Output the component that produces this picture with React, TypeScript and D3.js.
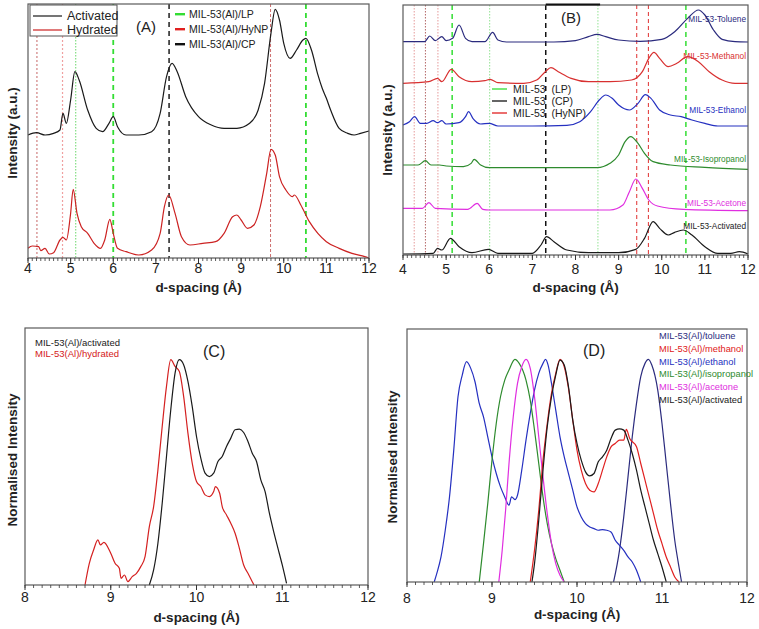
import React from "react";
import * as d3 from "d3";

type Pt = [number, number];

// ---------- Panel A data (d-spacing Å, intensity a.u.) ----------
const aActivated: Pt[] = [
  [4.0, 369], [4.2, 376], [4.4, 369], [4.6, 374], [4.75, 384], [4.82, 434], [4.9, 404], [5.0, 474],
  [5.1, 559], [5.2, 534], [5.4, 444], [5.6, 389], [5.75, 379], [5.9, 404], [6.0, 424], [6.1, 394],
  [6.3, 369], [6.6, 369], [6.9, 379], [7.1, 434], [7.25, 544], [7.38, 584], [7.5, 559], [7.7, 484],
  [8.0, 424], [8.3, 399], [8.6, 389], [8.9, 389], [9.2, 404], [9.4, 444], [9.55, 524], [9.7, 674],
  [9.8, 746], [9.9, 714], [10.0, 644], [10.15, 599], [10.3, 624], [10.45, 654], [10.52, 659],
  [10.65, 624], [10.8, 550], [10.9, 510], [11.0, 479], [11.1, 444], [11.3, 389], [11.5, 374],
  [11.65, 369], [11.8, 374], [12.0, 381],
];
const aHydrated: Pt[] = [
  [4.0, 29], [4.1, 36], [4.25, 34], [4.3, 22], [4.4, 29], [4.5, 12], [4.6, 16], [4.75, 54], [4.82, 62],
  [4.9, 54], [5.0, 134], [5.06, 206], [5.15, 134], [5.25, 94], [5.4, 74], [5.55, 44], [5.7, 29],
  [5.8, 54], [5.92, 116], [6.0, 74], [6.1, 29], [6.3, 19], [6.6, 9], [6.9, 24], [7.1, 74], [7.2, 154],
  [7.3, 189], [7.45, 134], [7.6, 64], [7.8, 39], [8.1, 44], [8.4, 49], [8.6, 74], [8.8, 124], [8.9, 129],
  [9.0, 114], [9.15, 89], [9.3, 99], [9.45, 154], [9.6, 254], [9.7, 326], [9.8, 309], [9.9, 244],
  [10.05, 204], [10.2, 184], [10.25, 189], [10.4, 159], [10.6, 109], [10.8, 74], [11.0, 49],
  [11.3, 29], [11.6, 14], [11.9, 4], [12.0, 0],
];

// ---------- Panel B data ----------
const bToluene: Pt[] = [
  [4.0, 640], [4.5, 640], [4.62, 657], [4.75, 643], [4.9, 655], [5.0, 643], [5.15, 650], [5.3, 690],
  [5.45, 650], [5.6, 640], [5.9, 640], [6.08, 668], [6.2, 645], [6.4, 639], [7.5, 639], [8.0, 643],
  [8.3, 655], [8.5, 662], [8.7, 655], [9.0, 645], [9.5, 641], [10.0, 647], [10.3, 670], [10.6, 710],
  [10.85, 735], [11.0, 720], [11.2, 675], [11.4, 647], [11.7, 640], [12.0, 639],
];
const bMethanol: Pt[] = [
  [4.0, 515], [4.6, 520], [4.8, 530], [4.9, 520], [5.12, 557], [5.3, 535], [5.6, 520], [5.9, 523],
  [6.02, 527], [6.2, 517], [6.8, 515], [7.1, 525], [7.3, 550], [7.43, 562], [7.6, 550], [7.9, 530],
  [8.3, 520], [8.8, 520], [9.3, 525], [9.55, 550], [9.7, 590], [9.82, 608], [9.95, 590], [10.15, 565],
  [10.35, 575], [10.6, 595], [10.85, 580], [11.1, 550], [11.4, 525], [11.7, 515], [12.0, 515],
];
const bEthanol: Pt[] = [
  [4.0, 390], [4.15, 400], [4.27, 415], [4.4, 395], [4.55, 395], [4.7, 403], [4.8, 397], [4.9, 403],
  [5.0, 393], [5.3, 397], [5.45, 415], [5.52, 430], [5.62, 410], [5.8, 393], [6.0, 395], [6.2, 387],
  [7.0, 387], [7.8, 389], [8.1, 400], [8.35, 430], [8.55, 465], [8.7, 480], [8.85, 470], [9.0, 450],
  [9.25, 435], [9.45, 455], [9.62, 481], [9.75, 470], [9.95, 435], [10.2, 420], [10.45, 415],
  [10.7, 405], [11.0, 395], [11.3, 387], [11.6, 387], [12.0, 387],
];
const bIsopropanol: Pt[] = [
  [4.0, 270], [4.35, 270], [4.52, 283], [4.65, 270], [4.85, 270], [5.0, 267], [5.4, 265], [5.58, 275],
  [5.65, 287], [5.8, 270], [6.0, 262], [8.5, 262], [8.8, 275], [9.0, 300], [9.15, 340], [9.28, 355],
  [9.45, 335], [9.6, 305], [9.8, 280], [10.2, 270], [11.0, 263], [12.0, 257],
];
const bAcetone: Pt[] = [
  [4.0, 140], [4.45, 140], [4.6, 157], [4.75, 140], [5.5, 137], [5.72, 155], [5.85, 137], [6.0, 135],
  [8.8, 135], [9.1, 150], [9.25, 190], [9.4, 228], [9.55, 200], [9.7, 165], [9.9, 147], [10.5, 137],
  [12.0, 133],
];
const bActivated: Pt[] = [
  [4.0, 3], [4.7, 5], [4.8, 20], [4.9, 15], [5.1, 50], [5.3, 25], [5.6, 7], [5.98, 17], [6.2, 5],
  [7.0, 5], [7.2, 30], [7.33, 55], [7.5, 40], [7.8, 15], [8.3, 7], [9.0, 7], [9.4, 17], [9.6, 50],
  [9.8, 100], [9.95, 80], [10.15, 60], [10.3, 68], [10.5, 75], [10.7, 60], [11.0, 25], [11.3, 5],
  [11.6, 5], [11.8, 10], [12.0, 3],
];

// ---------- Panel C data (normalised) ----------
const cActivated: Pt[] = [
  [9.45, 0], [9.5, 45], [9.55, 125], [9.6, 245], [9.65, 385], [9.7, 525], [9.75, 635], [9.8, 675],
  [9.85, 660], [9.9, 610], [9.95, 535], [10.0, 445], [10.05, 380], [10.1, 335], [10.15, 325],
  [10.2, 335], [10.25, 370], [10.3, 385], [10.35, 415], [10.4, 440], [10.45, 465], [10.5, 467],
  [10.55, 457], [10.6, 430], [10.65, 395], [10.7, 370], [10.75, 315], [10.8, 280], [10.85, 215],
  [10.9, 160], [10.95, 110], [11.0, 60], [11.05, 5],
];
const cHydrated: Pt[] = [
  [8.7, 0], [8.75, 65], [8.8, 105], [8.85, 135], [8.88, 120], [8.92, 128], [9.0, 95], [9.05, 65],
  [9.1, 50], [9.12, 20], [9.16, 30], [9.2, 10], [9.25, 25], [9.3, 35], [9.35, 55], [9.4, 85],
  [9.45, 175], [9.5, 235], [9.55, 345], [9.6, 475], [9.65, 595], [9.7, 675], [9.75, 655], [9.8, 640],
  [9.85, 565], [9.9, 455], [9.95, 365], [10.0, 310], [10.05, 295], [10.1, 270], [10.15, 265],
  [10.2, 280], [10.22, 295], [10.27, 275], [10.3, 235], [10.35, 210], [10.4, 185], [10.45, 155],
  [10.5, 110], [10.55, 60], [10.6, 35], [10.65, 10], [10.67, 0],
];

// ---------- Panel D data (normalised) ----------
const dEthanol: Pt[] = [
  [8.32, 0], [8.35, 25], [8.4, 75], [8.45, 155], [8.5, 255], [8.55, 395], [8.6, 555], [8.65, 620],
  [8.7, 660], [8.75, 640], [8.8, 600], [8.85, 535], [8.9, 495], [8.95, 435], [9.0, 375], [9.05, 325],
  [9.1, 285], [9.15, 255], [9.2, 230], [9.23, 255], [9.27, 247], [9.3, 260], [9.35, 335], [9.4, 425],
  [9.45, 505], [9.5, 575], [9.55, 625], [9.6, 655], [9.63, 667], [9.66, 650], [9.7, 595], [9.75, 515],
  [9.8, 435], [9.85, 375], [9.9, 325], [9.95, 275], [10.0, 225], [10.05, 195], [10.1, 175],
  [10.15, 165], [10.2, 160], [10.25, 155], [10.3, 157], [10.35, 155], [10.4, 150], [10.45, 125],
  [10.5, 110], [10.55, 95], [10.6, 75], [10.65, 60], [10.7, 35], [10.75, 0],
];
const dIsopropanol: Pt[] = [
  [8.85, 0], [8.9, 115], [8.95, 235], [9.0, 365], [9.05, 475], [9.1, 555], [9.15, 605], [9.2, 635],
  [9.27, 667], [9.32, 655], [9.4, 605], [9.45, 545], [9.5, 455], [9.55, 355], [9.6, 255], [9.65, 175],
  [9.7, 115], [9.75, 70], [9.8, 35], [9.85, 0],
];
const dAcetone: Pt[] = [
  [9.08, 0], [9.12, 95], [9.16, 215], [9.2, 355], [9.25, 495], [9.3, 595], [9.35, 645], [9.4, 667],
  [9.45, 640], [9.5, 555], [9.55, 435], [9.6, 315], [9.65, 205], [9.7, 115], [9.75, 55], [9.8, 20],
  [9.85, 0],
];
const dMethanol: Pt[] = [
  [9.45, 0], [9.5, 95], [9.55, 215], [9.6, 365], [9.65, 475], [9.7, 565], [9.75, 625], [9.8, 667],
  [9.85, 645], [9.9, 580], [9.95, 485], [10.0, 395], [10.05, 335], [10.1, 295], [10.15, 275],
  [10.2, 270], [10.25, 295], [10.3, 335], [10.35, 375], [10.4, 405], [10.45, 415], [10.5, 425],
  [10.55, 425], [10.58, 457], [10.62, 430], [10.7, 405], [10.75, 355], [10.8, 305], [10.85, 255],
  [10.9, 205], [10.95, 155], [11.0, 115], [11.05, 75], [11.1, 45], [11.15, 15], [11.2, 0],
];
const dActivated: Pt[] = [
  [9.47, 0], [9.5, 55], [9.55, 185], [9.6, 335], [9.65, 465], [9.7, 555], [9.75, 620], [9.8, 665],
  [9.85, 650], [9.9, 585], [9.95, 485], [10.0, 415], [10.05, 365], [10.1, 330], [10.15, 318],
  [10.2, 325], [10.25, 360], [10.3, 375], [10.35, 395], [10.4, 430], [10.45, 455], [10.5, 459],
  [10.55, 455], [10.6, 425], [10.65, 385], [10.7, 335], [10.75, 275], [10.8, 225], [10.85, 175],
  [10.9, 125], [10.95, 85], [11.0, 45], [11.05, 0],
];
const dToluene: Pt[] = [
  [10.43, 0], [10.5, 95], [10.55, 195], [10.6, 315], [10.65, 435], [10.7, 535], [10.75, 615],
  [10.8, 655], [10.84, 667], [10.88, 650], [10.95, 575], [11.0, 475], [11.05, 355], [11.1, 235],
  [11.15, 125], [11.2, 45], [11.23, 0],
];

// ---------- Reference lines ----------
const aRefD = [4.21, 4.81, 5.12, 6.0, 7.31, 9.69, 10.52];
const bRefD = [4.26, 4.52, 4.81, 5.14, 6.01, 7.31, 8.52, 9.42, 9.69, 10.56];
const bTopMark = [7.31, 8.57];

// ---------- Ticks & labels ----------
const ticksAB = [4, 5, 6, 7, 8, 9, 10, 11, 12];
const ticksCD = [8, 9, 10, 11, 12];
const legendA1 = ["Activated", "Hydrated"];
const legendA2 = ["MIL-53(Al)/LP", "MIL-53(Al)/HyNP", "MIL-53(Al)/CP"];
const legendB = ["MIL-53\u00A0\u00A0(LP)", "MIL-53\u00A0\u00A0(CP)", "MIL-53\u00A0\u00A0(HyNP)"];
const labelsB = ["MIL-53-Toluene", "MIL-53-Methanol", "MIL-53-Ethanol", "MIL-53-Isopropanol", "MIL-53-Acetone", "MIL-53-Activated"];
const legendC = ["MIL-53(Al)/activated", "MIL-53(Al)/hydrated"];
const legendD = ["MIL-53(Al)/toluene", "MIL-53(Al)/methanol", "MIL-53(Al)/ethanol", "MIL-53(Al)/isopropanol", "MIL-53(Al)/acetone", "MIL-53(Al)/activated"];

const FONT = "'Liberation Sans', Arial, sans-serif";
const BLACK = "#1a1a1a";
const NAVY = "#2b2b7e";
const BLUE = "#2530c0";
const GREEN = "#2e8b2e";
const MAGENTA = "#e02ee0";
const LIME = "#33dd33";

interface Series { data: Pt[]; color: string; width?: number }
interface VLine { d: number; color: string; dash: string; width: number }

interface PanelProps {
  left: number; right: number; top: number; bottom: number;
  xDomain: [number, number]; yDomain: [number, number];
  series: Series[]; vlines?: VLine[]; ticks: number[];
  tickBaseline: number; titleBaseline: number;
  yTitle: string; yTitleX: number; yTitleY: number;
  topMark?: number[];
  children?: React.ReactNode;
}

function Panel(p: PanelProps) {
  const x = d3.scaleLinear().domain(p.xDomain).range([p.left, p.right]);
  const y = d3.scaleLinear().domain(p.yDomain).range([p.bottom, p.top]);
  const line = d3.line<Pt>().x((d) => x(d[0])).y((d) => y(d[1])).curve(d3.curveMonotoneX);
  const minor = d3.range(Math.round((p.xDomain[1] - p.xDomain[0]) * 10) + 1).map((i) => p.xDomain[0] + i * 0.1);
  return (
    <g>
      {(p.vlines || []).map((v, i) => (
        <line key={"v" + i} x1={x(v.d)} x2={x(v.d)} y1={p.top} y2={p.bottom}
          stroke={v.color} strokeWidth={v.width} strokeDasharray={v.dash} />
      ))}
      {p.series.map((s, i) => (
        <path key={"s" + i} d={line(s.data) || ""} fill="none" stroke={s.color}
          strokeWidth={s.width || 1.2} strokeLinejoin="round" />
      ))}
      <rect x={p.left} y={p.top} width={p.right - p.left} height={p.bottom - p.top}
        fill="none" stroke="#5a5a5a" strokeWidth={1.2} />
      {p.topMark && (
        <line x1={x(p.topMark[0])} x2={x(p.topMark[1])} y1={p.top - 0.5} y2={p.top - 0.5} stroke="#111" strokeWidth={2} />
      )}
      {minor.map((t, i) => (
        <line key={"m" + i} x1={x(t)} x2={x(t)} y1={p.bottom} y2={p.bottom + 3} stroke="#333" strokeWidth={0.8} />
      ))}
      {p.ticks.map((t) => (
        <g key={"t" + t}>
          <line x1={x(t)} x2={x(t)} y1={p.bottom} y2={p.bottom + 5} stroke="#333" strokeWidth={1} />
          <text x={x(t)} y={p.tickBaseline} textAnchor="middle" fontSize={14} fontFamily={FONT} fill="#222">{t}</text>
        </g>
      ))}
      <text x={(p.left + p.right) / 2} y={p.titleBaseline} textAnchor="middle" fontSize={13.5}
        fontWeight="bold" fontFamily={FONT} fill="#222">d-spacing (Å)</text>
      <text transform={`translate(${p.yTitleX},${p.yTitleY}) rotate(-90)`} textAnchor="middle" fontSize={13.5}
        fontWeight="bold" fontFamily={FONT} fill="#222">{p.yTitle}</text>
      {p.children}
    </g>
  );
}

export default function App() {
  const vA: VLine[] = [
    { d: aRefD[0], color: "#b84040", dash: "2,2", width: 0.8 },
    { d: aRefD[1], color: "#f0a0a0", dash: "2,2", width: 1.2 },
    { d: aRefD[2], color: "#44cc44", dash: "1.5,1.5", width: 0.8 },
    { d: aRefD[3], color: LIME, dash: "5,4", width: 1.8 },
    { d: aRefD[4], color: "#444", dash: "5,4", width: 1.8 },
    { d: aRefD[5], color: "#c04848", dash: "3,2", width: 0.8 },
    { d: aRefD[6], color: LIME, dash: "5,4", width: 1.8 },
  ];
  const vB: VLine[] = [
    { d: bRefD[0], color: "#e08080", dash: "1.5,1.5", width: 0.8 },
    { d: bRefD[1], color: "#a04040", dash: "1.5,1.5", width: 0.8 },
    { d: bRefD[2], color: "#e08080", dash: "1.5,1.5", width: 0.8 },
    { d: bRefD[3], color: LIME, dash: "5,4", width: 1.5 },
    { d: bRefD[4], color: "#77dd77", dash: "1.5,1.5", width: 0.8 },
    { d: bRefD[5], color: "#111", dash: "5,4", width: 1.5 },
    { d: bRefD[6], color: "#77dd77", dash: "1.5,1.5", width: 0.8 },
    { d: bRefD[7], color: "#e03030", dash: "4,3", width: 1.0 },
    { d: bRefD[8], color: "#e03030", dash: "4,3", width: 1.0 },
    { d: bRefD[9], color: LIME, dash: "5,4", width: 1.5 },
  ];
  const legA2Colors = [LIME, "#e02020", "#111"];
  const legBColors = [LIME, "#111", "#e02020"];
  const bLabelColors = [NAVY, "#d83030", BLUE, GREEN, MAGENTA, BLACK];
  const bLabelY = [22, 59, 113, 162, 206, 229];
  const dColors = [NAVY, "#e02020", BLUE, GREEN, MAGENTA, BLACK];

  return (
    <svg width={759} height={629} style={{ position: "absolute", left: 0, top: 0, background: "#fff" }}>
      <rect x={0} y={0} width={759} height={629} fill="#fff" />
      {/* Panel A */}
      <Panel left={28} right={369} top={4} bottom={258} xDomain={[4, 12]} yDomain={[0, 762]}
        series={[{ data: aActivated, color: BLACK }, { data: aHydrated, color: "#cc2222" }]}
        vlines={vA} ticks={ticksAB} tickBaseline={273} titleBaseline={292}
        yTitle="Intensity (a.u.)" yTitleX={17} yTitleY={133}>
        <rect x={30} y={5} width={87} height={31} fill="#fff" stroke="#555" strokeWidth={1} />
        {legendA1.map((t, i) => (
          <g key={t}>
            <line x1={33} x2={62} y1={16 + i * 14} y2={16 + i * 14} stroke={i === 0 ? BLACK : "#cc2222"} strokeWidth={1.2} />
            <text x={67} y={20 + i * 14} fontSize={12.5} fontFamily={FONT} fill="#222">{t}</text>
          </g>
        ))}
        <text x={136} y={32} fontSize={15} fontFamily={FONT} fill="#222">(A)</text>
        {legendA2.map((t, i) => (
          <g key={t}>
            <rect x={175} y={13 + i * 15} width={10} height={2.4} fill={legA2Colors[i]} />
            <text x={189} y={18 + i * 15} fontSize={10.5} fontFamily={FONT} fill="#222">{t}</text>
          </g>
        ))}
      </Panel>

      {/* Panel B */}
      <Panel left={403} right={748} top={5} bottom={255} xDomain={[4, 12]} yDomain={[0, 750]}
        series={[
          { data: bToluene, color: NAVY }, { data: bMethanol, color: "#d83030" },
          { data: bEthanol, color: BLUE }, { data: bIsopropanol, color: GREEN },
          { data: bAcetone, color: MAGENTA }, { data: bActivated, color: BLACK },
        ]}
        vlines={vB} ticks={ticksAB} tickBaseline={274} titleBaseline={292} topMark={bTopMark}
        yTitle="Intensity (a.u.)" yTitleX={392} yTitleY={130}>
        <text x={561} y={23} fontSize={15} fontFamily={FONT} fill="#222">(B)</text>
        {legendB.map((t, i) => (
          <g key={t}>
            <line x1={492} x2={507} y1={89 + i * 12} y2={89 + i * 12} stroke={legBColors[i]} strokeWidth={1.3} />
            <text x={513} y={93 + i * 12} fontSize={10.5} fontFamily={FONT} fill="#222">{t}</text>
          </g>
        ))}
        {labelsB.map((t, i) => (
          <text key={t} x={746} y={bLabelY[i]} textAnchor="end" fontSize={8.3} fontFamily={FONT} fill={bLabelColors[i]}>{t}</text>
        ))}
      </Panel>

      {/* Panel C */}
      <Panel left={25} right={368} top={328} bottom={585} xDomain={[8, 12]} yDomain={[0, 770]}
        series={[{ data: cHydrated, color: "#d42020" }, { data: cActivated, color: BLACK }]}
        ticks={ticksCD} tickBaseline={602} titleBaseline={622}
        yTitle="Normalised Intensity" yTitleX={17} yTitleY={460}>
        {legendC.map((t, i) => (
          <text key={t} x={35} y={346 + i * 11} fontSize={9.5} fontFamily={FONT} fill={i === 0 ? BLACK : "#d42020"}>{t}</text>
        ))}
        <text x={203} y={357} fontSize={16} fontFamily={FONT} fill="#222">(C)</text>
      </Panel>

      {/* Panel D */}
      <Panel left={407} right={747} top={329} bottom={582} xDomain={[8, 12]} yDomain={[0, 758]}
        series={[
          { data: dToluene, color: NAVY }, { data: dEthanol, color: BLUE },
          { data: dIsopropanol, color: GREEN }, { data: dAcetone, color: MAGENTA },
          { data: dMethanol, color: "#e02020" }, { data: dActivated, color: BLACK },
        ]}
        ticks={ticksCD} tickBaseline={603} titleBaseline={619}
        yTitle="Normalised Intensity" yTitleX={397} yTitleY={457}>
        {legendD.map((t, i) => (
          <text key={t} x={659} y={339 + i * 12.8} fontSize={9.3} fontFamily={FONT} fill={dColors[i]}>{t}</text>
        ))}
        <text x={583} y={356} fontSize={16} fontFamily={FONT} fill="#222">(D)</text>
      </Panel>
    </svg>
  );
}
